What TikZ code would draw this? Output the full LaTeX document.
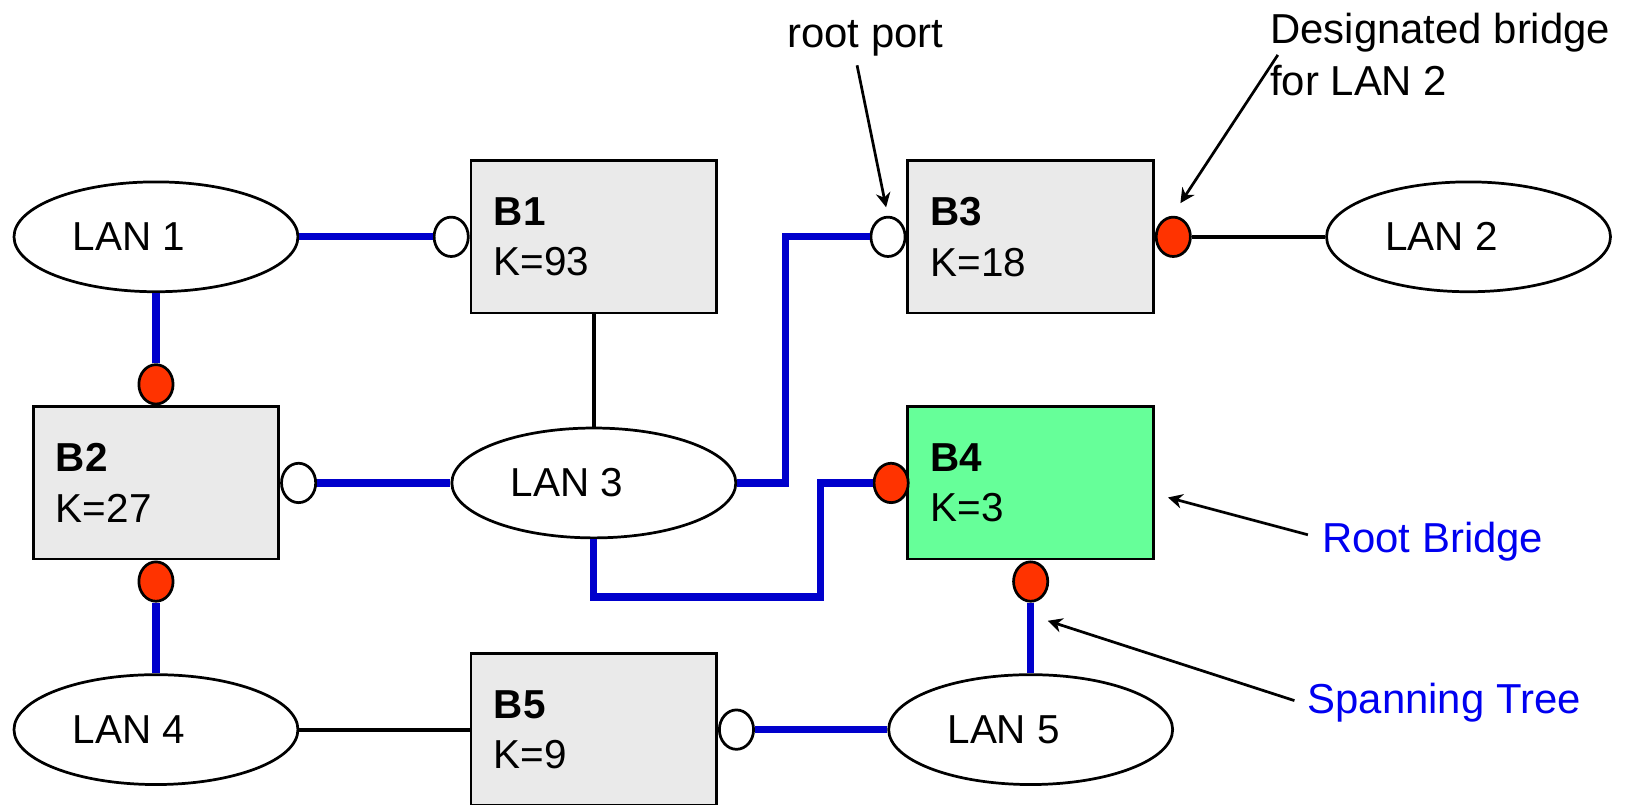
\documentclass[tikz,border=0pt]{standalone}
\usepackage{fontspec}
\setmainfont{Liberation Sans}
\usetikzlibrary{shapes.geometric,arrows.meta}
\definecolor{boxgray}{RGB}{234,234,234}
\definecolor{rootgreen}{RGB}{102,255,153}
\definecolor{portred}{RGB}{255,51,0}
\definecolor{treeblue}{RGB}{0,0,204}
\definecolor{noteblue}{RGB}{0,0,240}

\begin{document}
\begin{tikzpicture}[font=\fontsize{11.1}{13.9}\selectfont,
    lan/.style={ellipse, draw, line width=.75pt, minimum width=2.74cm, minimum height=1.06cm},
    bridge/.style={draw, line width=.75pt, fill=boxgray, text width=1.93cm, inner xsep=.22cm,
      inner ysep=0pt, minimum height=1.47cm, align=left},
    port/.style={ellipse, draw, line width=.75pt, fill=white, inner sep=0pt,
      minimum width=.33cm, minimum height=.38cm},
    dport/.style={port, fill=portred},
    tree/.style={draw=treeblue, line width=2pt},
    link/.style={draw, line width=1.1pt},
    caption/.style={inner sep=0pt, anchor=base west, font=\fontsize{11.5}{14.3}\selectfont},
    note/.style={-{Stealth[length=1.4mm, width=1.4mm]}, line width=.75pt}]
    \clip (0,0) rectangle (15.68,-7.76);

    % LANs
    \node[lan, label={[xshift=-.26cm]center:LAN 1}] (lan1) at (1.505,-2.285) {};
    \node[lan, label={[xshift=-.26cm]center:LAN 2}] (lan2) at (14.17,-2.285) {};
    \node[lan, label={[xshift=-.26cm]center:LAN 3}] (lan3) at (5.73,-4.66) {};
    \node[lan, label={[xshift=-.26cm]center:LAN 4}] (lan4) at (1.505,-7.04) {};
    \node[lan, label={[xshift=-.26cm]center:LAN 5}] (lan5) at (9.945,-7.04) {};

    % bridges
    \node[bridge] (b1) at (5.73,-2.285) {\textbf{B1}\\K=93};
    \node[bridge] (b2) at (1.505,-4.66) {\textbf{B2}\\K=27};
    \node[bridge] (b3) at (9.945,-2.285) {\textbf{B3}\\K=18};
    \node[bridge, fill=rootgreen] (b4) at (9.945,-4.66) {\textbf{B4}\\K=3};
    \node[bridge] (b5) at (5.73,-7.04) {\textbf{B5}\\K=9};

    % ports
    \node[port, anchor=east] (b1l) at (b1.west) {};
    \node[dport, anchor=south] (b2t) at (b2.north) {};
    \node[port, anchor=west] (b2r) at (b2.east) {};
    \node[dport, anchor=north] (b2b) at (b2.south) {};
    \node[port, anchor=east] (b3l) at (b3.west) {};
    \node[dport, anchor=west] (b3r) at (b3.east) {};
    \node[dport, anchor=east] (b4l) at ([xshift=.03cm]b4.west) {};
    \node[dport, anchor=north] (b4b) at (b4.south) {};
    \node[port, anchor=west] (b5r) at (b5.east) {};

    % links
    \coordinate (bend) at (7.92,-5.76);
    \draw[tree] (lan1) -- (b1l);
    \draw[tree] (lan1) -- (b2t);
    \draw[tree] (b2r) -- (lan3);
    \draw[link] (b1) -- (lan3);
    \draw[tree] (lan3.east) -- ++(.465,0) |- (b3l);
    \draw[tree] (lan3.south) |- (bend) |- (b4l);
    \draw[link] (b3r) -- (lan2);
    \draw[tree] (b2b) -- (lan4);
    \draw[link] (lan4) -- (b5);
    \draw[tree] (b5r) -- (lan5);
    \draw[tree] (b4b) -- (lan5);

    % notes
    \node[caption] (rplabel) at (7.59,-.46) {root port};
    \node[caption, anchor=north west, align=left] (dblabel) at (12.25,-.12) {Designated bridge\\for LAN 2};
    \node[caption, text=noteblue] (rblabel) at (12.75,-5.335) {Root Bridge};
    \node[caption, text=noteblue] (stlabel) at (12.61,-6.88) {Spanning Tree};
    \coordinate (rpfrom) at (8.27,-.63);
    \coordinate (rpto) at (8.55,-2.00);
    \coordinate (dbfrom) at (12.33,-.53);
    \coordinate (dbto) at (11.39,-1.96);
    \coordinate (rbfrom) at (12.62,-5.16);
    \coordinate (rbto) at (11.27,-4.80);
    \coordinate (stfrom) at (12.49,-6.76);
    \coordinate (stto) at (10.11,-5.99);
    \draw[note] (rpfrom) -- (rpto);
    \draw[note] (dbfrom) -- (dbto);
    \draw[note] (rbfrom) -- (rbto);
    \draw[note] (stfrom) -- (stto);
\end{tikzpicture}
\end{document}
